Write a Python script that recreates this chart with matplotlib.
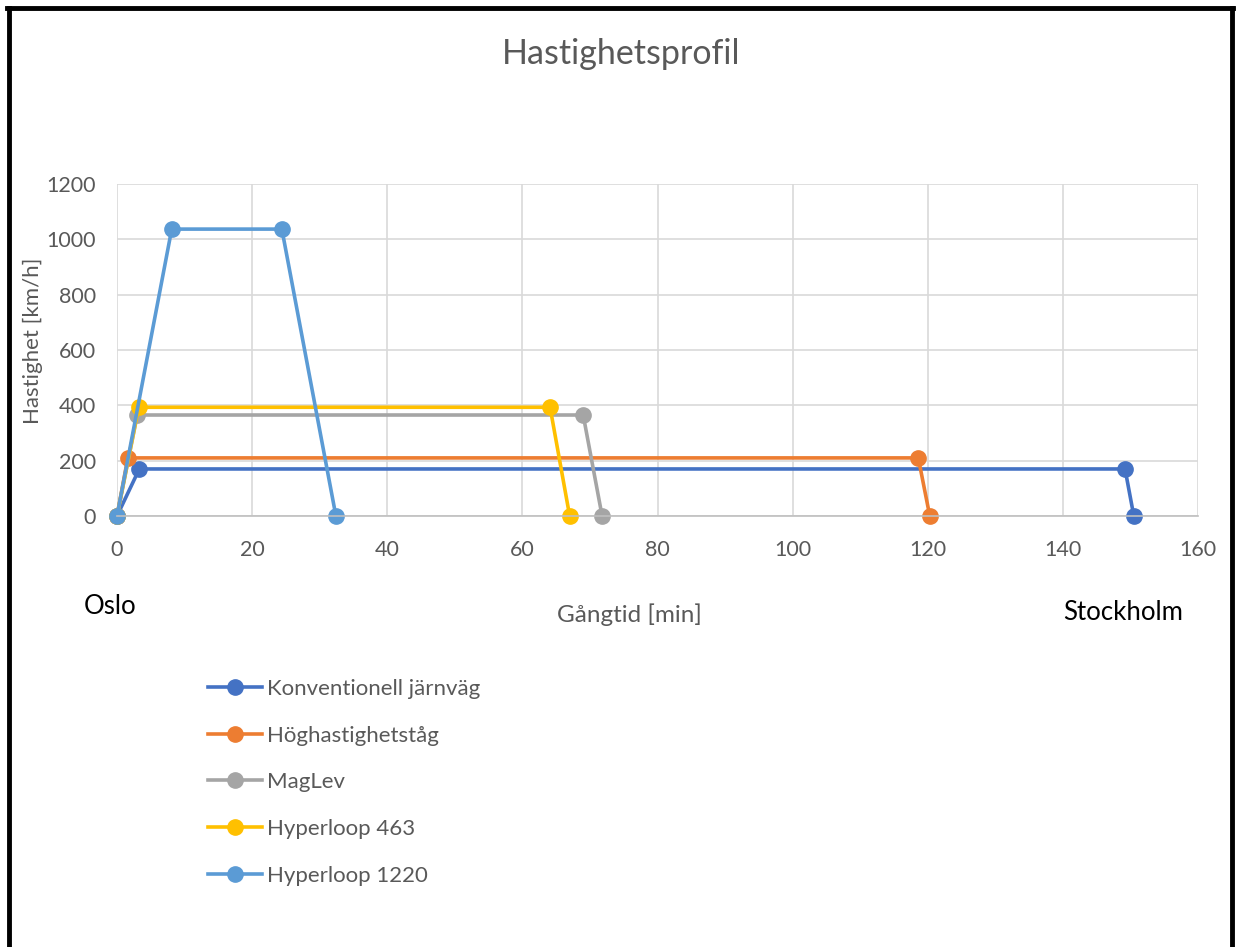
import matplotlib
matplotlib.use('Agg')
import matplotlib.pyplot as plt
from matplotlib.lines import Line2D

plt.rcParams['font.family'] = ['Lato', 'DejaVu Sans']

# gangtid [min] och hastighet [km/h] for varje tagtyp
konv_t = [0, 3.3, 149.2, 150.5]
konv_v = [0, 170, 170, 0]
hogh_t = [0, 1.6, 118.6, 120.3]
hogh_v = [0, 210, 210, 0]
maglev_t = [0, 3.0, 69.0, 71.8]
maglev_v = [0, 365, 365, 0]
hl463_t = [0, 3.2, 64.1, 67.0]
hl463_v = [0, 393, 393, 0]
hl1220_t = [0, 8.1, 24.4, 32.4]
hl1220_v = [0, 1037, 1037, 0]

names = ['Konventionell järnväg', 'Höghastighetståg', 'MagLev', 'Hyperloop 463', 'Hyperloop 1220']
colors = ['#4472C4', '#ED7D31', '#A5A5A5', '#FFC000', '#5B9BD5']
series = [(konv_t, konv_v), (hogh_t, hogh_v), (maglev_t, maglev_v),
          (hl463_t, hl463_v), (hl1220_t, hl1220_v)]

grey = '#595959'
fig = plt.figure(figsize=(12.38, 9.47), dpi=100)
ax = fig.add_axes([117/1238, 1-516/947, (1198-117)/1238, (516-184)/947])

handles = []
for (t, v), c, n in zip(series, colors, names):
    h, = ax.plot(t, v, color=c, lw=2.6, marker='o', ms=11, label=n, clip_on=False)
    handles.append(h)

ax.set_xlim(0, 160)
ax.set_ylim(0, 1200)
ax.set_xticks(range(0, 161, 20))
ax.set_yticks(range(0, 1201, 200))
ax.grid(True, color='#d9d9d9', lw=1.2)
ax.set_axisbelow(True)
for s in ['top', 'right', 'left']:
    ax.spines[s].set_visible(False)
ax.spines['bottom'].set_color('#bfbfbf')
ax.spines['bottom'].set_linewidth(1.2)
ax.tick_params(length=0, labelsize=15.5, labelcolor=grey, pad=15)
ax.tick_params(axis='x', pad=17)

ax.set_ylabel('Hastighet [km/h]', fontsize=16, color=grey)
ax.yaxis.set_label_coords(-74/1081, 0.527)
fig.text(629/1238, 1-615/947, 'Gångtid [min]', fontsize=17.5, color=grey, ha='center', va='center')
fig.text(84/1238, 1-606/947, 'Oslo', fontsize=18.5, color='black', ha='left', va='center')
fig.text(1183/1238, 1-613/947, 'Stockholm', fontsize=18.5, color='black', ha='right', va='center')
fig.text(621/1238, 1-54/947, 'Hastighetsprofil', fontsize=24.5, color=grey, ha='center', va='center')

leg = fig.legend(handles=handles, loc='upper left', bbox_to_anchor=(199/1238, 1-670/947),
                 frameon=False, fontsize=16, labelcolor=grey, labelspacing=1.2,
                 handlelength=2.45, handletextpad=0.2, borderaxespad=0)

# ram runt diagrammet
bw = 3.5
fig.add_artist(Line2D([8.5/1238, 8.5/1238], [0, 1-8.5/947], color='black', lw=bw, transform=fig.transFigure))
fig.add_artist(Line2D([1231.5/1238, 1231.5/1238], [0, 1-8.5/947], color='black', lw=bw, transform=fig.transFigure))
fig.add_artist(Line2D([7/1238, 1233/1238], [1-8.5/947, 1-8.5/947], color='black', lw=bw, transform=fig.transFigure))

fig.savefig('out.png', dpi=100)
